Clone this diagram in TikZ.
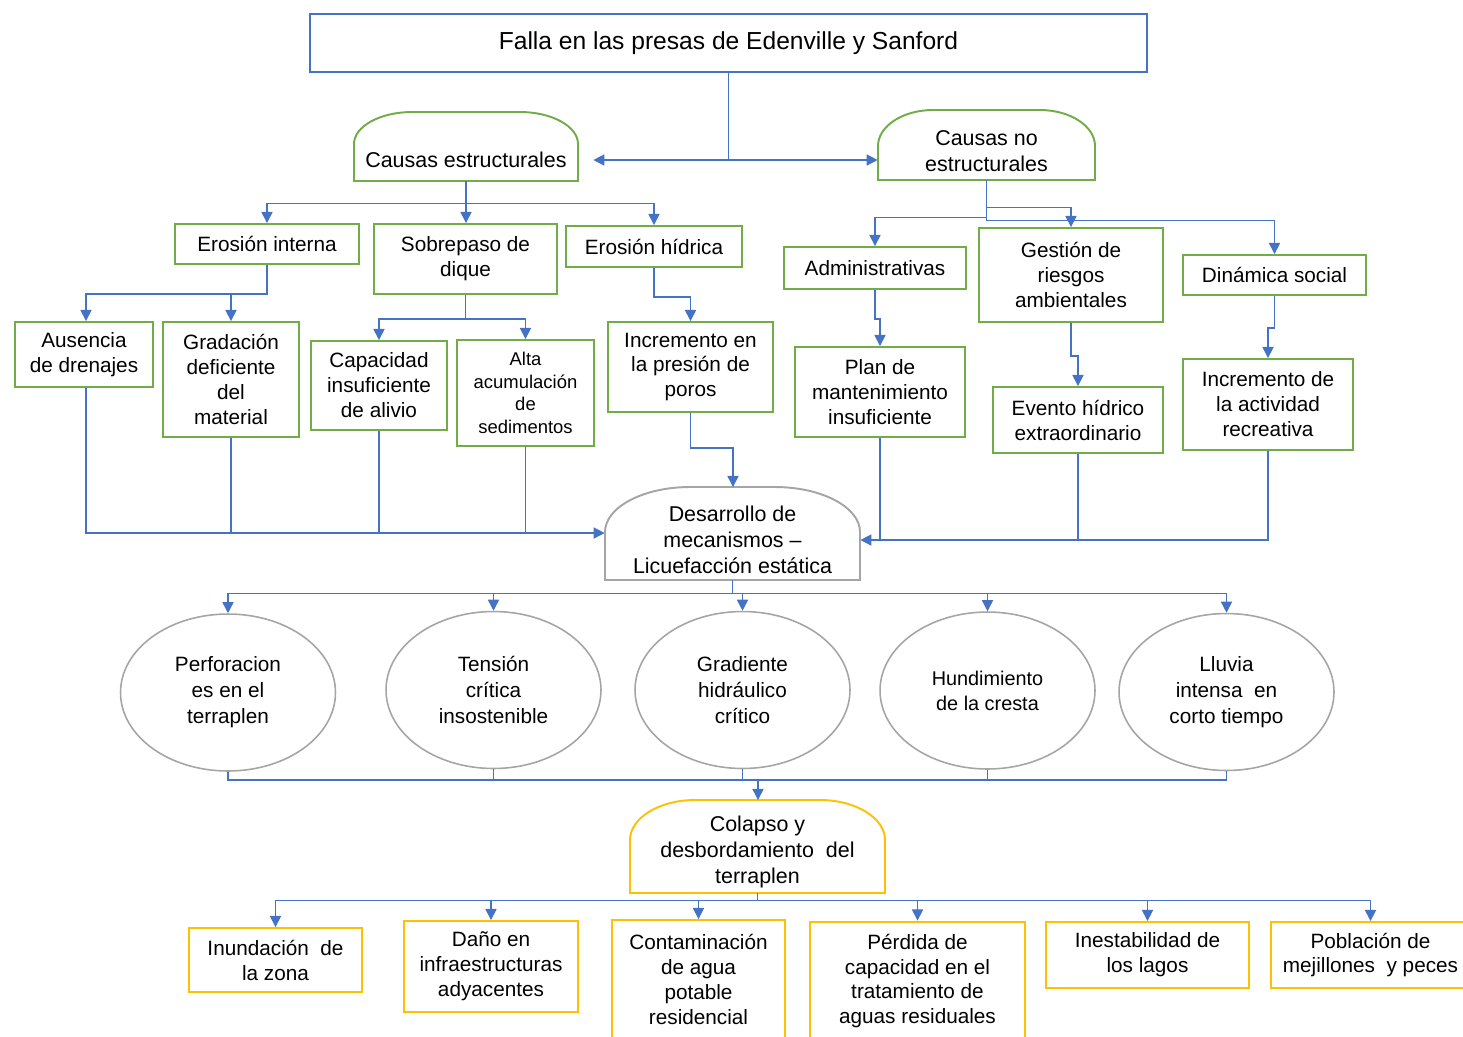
\documentclass[tikz,border=0pt]{standalone}
\usepackage{fontspec}
\setmainfont{Liberation Sans}
\usetikzlibrary{arrows.meta,shapes.geometric,calc}

\definecolor{lineblue}{HTML}{4472C4}
\definecolor{boxgreen}{HTML}{70AD47}
\definecolor{boxgold}{HTML}{FFC000}
\definecolor{ringgray}{HTML}{A5A5A5}

% arch frame: colour, left, top, right, bottom, x radius, y radius (px)
\newcommand{\archframe}[7]{%
  \draw[#1, line width=1.1pt] (#2,#5) -- (#2,{#3+#7})
    .. controls (#2,{#3+0.45*#7}) and ({#2+0.45*#6},#3) .. ({#2+#6},#3)
    -- ({#4-#6},#3)
    .. controls ({#4-0.45*#6},#3) and (#4,{#3+0.45*#7}) .. (#4,{#3+#7})
    -- (#4,#5) -- cycle;}

\tikzset{
  link/.style={lineblue, line width=0.85pt},
  conn/.style={link, -{Triangle[length=6.3pt,width=6.3pt]}},
  box/.style={draw, line width=1.1pt, inner sep=0pt, align=center,
    font=\fontsize{11.8}{14.2}\selectfont},
  gbox/.style={box, draw=boxgreen},
  ybox/.style={box, draw=boxgold},
  ring/.style={ellipse, draw=ringgray, line width=0.9pt, inner sep=0pt,
    minimum width=4.3cm, minimum height=3.14cm, align=center,
    font=\fontsize{11.8}{14.8}\selectfont},
  archtext/.style={inner sep=0pt, align=center, minimum width=5.1cm,
    font=\fontsize{12.2}{14.8}\selectfont},
}

\begin{document}
\begin{tikzpicture}[x=0.02cm, y=-0.02cm]
  \useasboundingbox (0,0) rectangle (1463,1036);
  \clip (0,0) rectangle (1463,1036);

  % top
  \node[box, draw=lineblue, minimum width=16.74cm, minimum height=1.16cm,
    font=\fontsize{14}{16}\selectfont] (title) at (728.5,43)
    {Falla en las presas de Edenville y Sanford};

  \node[archtext, minimum width=4.48cm, minimum height=0.84cm] (causasE) at (466,160) {Causas estructurales};
  \archframe{boxgreen}{354}{112}{578}{181}{58}{32}
  \node[archtext, minimum width=4.34cm, minimum height=1.16cm] (causasN) at (986.5,151) {Causas no\\estructurales};
  \archframe{boxgreen}{878}{110}{1095}{180}{55}{36}

  % structural causes
  \node[gbox, minimum width=3.68cm, minimum height=0.8cm] (erosionI) at (267,244) {Erosión interna};
  \node[gbox, minimum width=3.66cm, minimum height=1.4cm] (sobrepaso) at (465.5,259) {Sobrepaso de\\dique};
  \node[gbox, minimum width=3.52cm, minimum height=0.82cm] (erosionH) at (654,246.5) {Erosión hídrica};

  \node[gbox, minimum width=2.76cm, minimum height=1.3cm] (ausencia) at (84,354.5) {Ausencia\\de drenajes};
  \node[gbox, minimum width=2.72cm, minimum height=2.3cm] (gradacion) at (231,379.5) {Gradación\\deficiente\\del\\material};
  \node[gbox, minimum width=2.72cm, minimum height=1.78cm] (capacidad) at (379,385.5) {Capacidad\\insuficiente\\de alivio};
  \node[gbox, minimum width=2.74cm, minimum height=2.12cm,
    font=\fontsize{10.5}{12.8}\selectfont] (alta) at (525.5,393) {Alta\\acumulación\\de\\sedimentos};
  \node[gbox, minimum width=3.3cm, minimum height=1.8cm] (incPoros) at (690.5,367) {Incremento en\\la presión de\\poros};

  % non structural causes
  \node[gbox, minimum width=3.64cm, minimum height=0.84cm] (admin) at (875,268) {Administrativas};
  \node[gbox, minimum width=3.68cm, minimum height=1.88cm] (gestion) at (1071,275) {Gestión de\\riesgos\\ambientales};
  \node[gbox, minimum width=3.66cm, minimum height=0.8cm] (dinamica) at (1274.5,275) {Dinámica social};

  \node[gbox, minimum width=3.4cm, minimum height=1.8cm] (plan) at (880,392) {Plan de\\mantenimiento\\insuficiente};
  \node[gbox, minimum width=3.4cm, minimum height=1.32cm] (evento) at (1078,420) {Evento hídrico\\extraordinario};
  \node[gbox, minimum width=3.4cm, minimum height=1.82cm] (incAct) at (1268,404.5) {Incremento de\\la actividad\\recreativa};

  % mechanisms
  \node[archtext, minimum height=1.6cm] (desarrollo) at (732.5,540) {Desarrollo de\\mecanismos –\\Licuefacción estática};
  \archframe{ringgray}{605}{487}{860}{580}{85}{45}

  \node[ring] (perfor) at (228,692.5) {Perforacion\\es en el\\terraplen};
  \node[ring] (tension) at (493.5,690) {Tensión\\crítica\\insostenible};
  \node[ring] (gradiente) at (742.5,690) {Gradiente\\hidráulico\\crítico};
  \node[ring, font=\fontsize{11.3}{14.2}\selectfont] (hundim) at (987.5,690.5) {Hundimiento\\de la cresta};
  \node[ring] (lluvia) at (1226.5,692) {Lluvia\\intensa~ en\\corto tiempo};

  % collapse and effects
  \node[archtext, minimum height=1.64cm] (colapso) at (757.5,852) {Colapso y\\desbordamiento~ del\\terraplen};
  \archframe{boxgold}{630}{800}{885}{893}{65}{40}

  \node[ybox, minimum width=3.46cm, minimum height=1.28cm] (inund) at (275.5,960) {Inundación~ de\\la zona};
  \node[ybox, minimum width=3.48cm, minimum height=1.82cm] (dano) at (491,966.5) {Daño en\\infraestructuras\\adyacentes};
  \node[ybox, minimum width=3.46cm, minimum height=2.38cm] (contam) at (698.5,979.5) {Contaminación\\de agua\\potable\\residencial};
  \node[ybox, minimum width=4.3cm, minimum height=2.38cm] (perdida) at (917.5,981) {Pérdida de\\capacidad en el\\tratamiento de\\aguas residuales};
  \node[ybox, minimum width=4.06cm, minimum height=1.32cm] (inest) at (1147.5,955) {Inestabilidad de\\los lagos};
  \node[ybox, minimum width=3.98cm, minimum height=1.32cm] (pobl) at (1370.5,955) {Población de\\mejillones~ y peces};

  % connectors
  \draw[conn] (title.south) |- ($(causasE.east)+(15,0)$);
  \draw[conn] (title.south) |- ($(causasN.west)+(0,9)$);

  \draw[conn] (causasE.south) -- ++(0,22) -| (erosionI.north);
  \draw[conn] (causasE.south) -- (causasE.south |- sobrepaso.north);
  \draw[conn] (causasE.south) -- ++(0,22) -| (erosionH.north);

  \draw[conn] (erosionI.south) -- ++(0,29) -| ($(ausencia.north)+(2,0)$);
  \draw[conn] (erosionI.south) -- ++(0,29) -| (gradacion.north);
  \draw[conn] (sobrepaso.south) -- ++(0,24) -| (capacidad.north);
  \draw[conn] (sobrepaso.south) -- ++(0,24) -| (alta.north);
  \draw[conn] (erosionH.south) -- ++(0,29) -| (incPoros.north);

  \draw[conn] (causasN.south) -- ++(0,37) -| (admin.north);
  \draw[conn] (causasN.south) -- ++(0,27) -| (gestion.north);
  \draw[conn] (causasN.south) -- ++(0,40) -| (dinamica.north);
  \draw[conn] (admin.south) -- ++(0,29) -| (plan.north);
  \draw[conn] (gestion.south) -- ++(0,33) -| (evento.north);
  \draw[conn] (dinamica.south) -- ++(0,32) -| (incAct.north);

  \coordinate (dLeft) at ($(desarrollo.west)+(0,-7)$);
  \coordinate (dTop) at (733,487);
  \draw[conn] ($(ausencia.south)+(2,0)$) |- (dLeft);
  \draw[link] (gradacion.south) -- (gradacion.south |- dLeft);
  \draw[link] (capacidad.south) -- (capacidad.south |- dLeft);
  \draw[link] (alta.south) -- (alta.south |- dLeft);
  \draw[conn] (incPoros.south) -- ++(0,35) -| (dTop);
  \draw[conn] (incAct.south) |- (desarrollo.east);
  \draw[link] (plan.south) -- (plan.south |- desarrollo.east);
  \draw[link] (evento.south) -- (evento.south |- desarrollo.east);

  \foreach \r in {perfor,tension,gradiente,hundim,lluvia}
    \draw[conn] (desarrollo.south) -- ++(0,13) -| (\r.north);

  \coordinate (cJoin) at (758,780);
  \coordinate (cTop) at (758,800);
  \foreach \r in {perfor,tension,gradiente,hundim,lluvia}
    \draw[link] (\r.south) |- (cJoin);
  \draw[conn] (cJoin) -- (cTop);

  \foreach \e in {inund,dano,contam,perdida,inest,pobl}
    \draw[conn] (colapso.south) -- ++(0,7) -| (\e.north);
\end{tikzpicture}
\end{document}
